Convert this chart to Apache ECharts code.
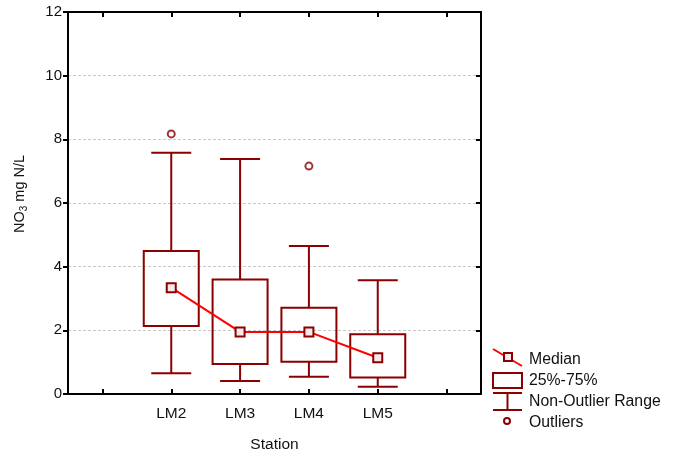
<!DOCTYPE html>
<html lang="en">
<head>
    <meta charset="UTF-8">
    <title>NO3 by station</title>
    <script src="https://cdn.jsdelivr.net/npm/echarts@6/dist/echarts.min.js"></script>
    <style>
        html, body { margin: 0; padding: 0; background: #fff; }
    </style>
</head>
<body>
    <div id="main" style="width: 680px;height:455px;"></div>
    <script type="text/javascript">
        // stations (empty slots at both ends for padding)
        const categories = ['', 'LM2', 'LM3', 'LM4', 'LM5', ''];
        const stations = ['LM2', 'LM3', 'LM4', 'LM5'];

        const medians = [3.34, 1.95, 1.95, 1.14];
        const q1 = [2.14, 0.94, 1.01, 0.52];
        const q3 = [4.49, 3.60, 2.71, 1.88];
        const whiskerLow = [0.65, 0.41, 0.54, 0.23];
        const whiskerHigh = [7.58, 7.38, 4.65, 3.57];

        const outlierStations = ['LM2', 'LM4'];
        const outlierValues = [8.17, 7.16];

        const yTicks = [0, 2, 4, 6, 8, 10, 12];

        const dark = '#8b0000';
        const font = 'Liberation Sans, Arial, sans-serif';

        var myChart = echarts.init(document.getElementById('main'));

        // box data: [category, low, q1, q3, high]
        const boxData = stations.map(function (s, i) {
            return [categories.indexOf(s), whiskerLow[i], q1[i], q3[i], whiskerHigh[i]];
        });
        const medianData = stations.map(function (s, i) {
            return [s, medians[i]];
        });
        const outlierData = outlierStations.map(function (s, i) {
            return [s, outlierValues[i]];
        });

        function renderBox(params, api) {
            const x = api.value(0);
            const low = api.coord([x, api.value(1)]);
            const lo = api.coord([x, api.value(2)]);
            const hi = api.coord([x, api.value(3)]);
            const high = api.coord([x, api.value(4)]);
            const cx = low[0];
            const bw = 27.5, cw = 20;
            const st = { stroke: dark, lineWidth: 2, fill: null };
            return {
                type: 'group',
                children: [
                    { type: 'line', shape: { x1: cx, y1: high[1], x2: cx, y2: hi[1] }, style: st },
                    { type: 'line', shape: { x1: cx, y1: lo[1], x2: cx, y2: low[1] }, style: st },
                    { type: 'line', shape: { x1: cx - cw, y1: high[1], x2: cx + cw, y2: high[1] }, style: st },
                    { type: 'line', shape: { x1: cx - cw, y1: low[1], x2: cx + cw, y2: low[1] }, style: st },
                    { type: 'rect', shape: { x: cx - bw, y: hi[1], width: bw * 2, height: lo[1] - hi[1] }, style: { stroke: dark, lineWidth: 2, fill: 'rgba(0,0,0,0)' } }
                ]
            };
        }

        const frameTick = { show: true, interval: 0, inside: true, length: 5, alignWithLabel: true, lineStyle: { color: '#000', width: 2 } };
        const lx = 493, ly = 349;
        var option = {
            animation: false,
            backgroundColor: '#fff',
            grid: { left: 68, right: 199, top: 12, bottom: 61, outerBoundsMode: 'none', containLabel: false },
            xAxis: [{
                type: 'category',
                data: categories,
                position: 'bottom',
                name: 'Station',
                nameLocation: 'middle',
                nameGap: 43,
                nameTextStyle: { color: '#111', fontSize: 15.5, fontFamily: font },
                axisLine: { show: true, onZero: false, lineStyle: { color: '#000', width: 2 } },
                axisTick: frameTick,
                axisLabel: { color: '#111', fontSize: 15.5, fontFamily: font, margin: 12, interval: 0 },
                splitLine: { show: false }
            }, {
                type: 'category',
                data: categories,
                position: 'top',
                axisLine: { show: true, onZero: false, lineStyle: { color: '#000', width: 2 } },
                axisTick: frameTick,
                axisLabel: { show: false, interval: 0 },
                splitLine: { show: false }
            }],
            yAxis: [{
                type: 'value',
                min: 0,
                max: 12,
                interval: 2,
                name: '{a|NO}{b|3}{a| mg N/L}',
                nameLocation: 'middle',
                nameGap: 39,
                nameTextStyle: {
                    padding: [0, 0, 0, 18],
                    rich: {
                        a: { fontSize: 14.5, fontFamily: font, color: '#111' },
                        b: { fontSize: 10, fontFamily: font, color: '#111', padding: [8, 0, 0, 0] }
                    }
                },
                axisLine: { show: true, onZero: false, lineStyle: { color: '#000', width: 2 } },
                axisTick: { show: true, length: 5, lineStyle: { color: '#000', width: 2 } },
                axisLabel: {
                    color: '#111', fontSize: 15, fontFamily: font, margin: 6,
                    formatter: function (v) { return yTicks.indexOf(v) >= 0 ? String(v) : ''; }
                },
                splitLine: { show: true, lineStyle: { color: '#c8c8c8', type: [3, 2], width: 1 } }
            }, {
                type: 'value',
                min: 0,
                max: 12,
                interval: 2,
                position: 'right',
                axisLine: { show: true, onZero: false, lineStyle: { color: '#000', width: 2 } },
                axisTick: { show: true, inside: true, length: 5, lineStyle: { color: '#000', width: 2 } },
                axisLabel: { show: false },
                splitLine: { show: false }
            }],
            series: [{
                type: 'custom',
                name: 'box',
                renderItem: renderBox,
                encode: { x: 0, y: [1, 2, 3, 4] },
                data: boxData,
                z: 2
            }, {
                type: 'line',
                name: 'Median',
                data: medianData,
                symbol: 'rect',
                symbolSize: 9,
                lineStyle: { color: '#ff0000', width: 2 },
                itemStyle: { color: '#fbe9e9', borderColor: dark, borderWidth: 2 },
                z: 3
            }, {
                type: 'scatter',
                name: 'Outliers',
                data: outlierData,
                symbol: 'circle',
                symbolSize: 7,
                itemStyle: { color: '#fff', borderColor: dark, borderWidth: 2 },
                z: 3
            }],
            graphic: [
                { type: 'line', shape: { x1: lx, y1: ly, x2: lx + 29, y2: ly + 17 }, style: { stroke: '#ff0000', lineWidth: 2 } },
                { type: 'rect', shape: { x: lx + 11, y: ly + 4, width: 8, height: 8 }, style: { fill: '#fbe9e9', stroke: dark, lineWidth: 2 } },
                { type: 'rect', shape: { x: lx, y: ly + 24, width: 29, height: 15 }, style: { fill: '#fff', stroke: dark, lineWidth: 2 } },
                { type: 'line', shape: { x1: lx, y1: ly + 44, x2: lx + 29, y2: ly + 44 }, style: { stroke: dark, lineWidth: 2 } },
                { type: 'line', shape: { x1: lx + 14.5, y1: ly + 44, x2: lx + 14.5, y2: ly + 61 }, style: { stroke: dark, lineWidth: 2 } },
                { type: 'line', shape: { x1: lx, y1: ly + 61, x2: lx + 29, y2: ly + 61 }, style: { stroke: dark, lineWidth: 2 } },
                { type: 'circle', shape: { cx: lx + 14, cy: ly + 72, r: 3 }, style: { fill: '#fff', stroke: dark, lineWidth: 2 } },
                { type: 'text', x: 529, y: 360, style: { text: 'Median', fontSize: 15.8, fontFamily: font, fill: '#111', verticalAlign: 'middle' } },
                { type: 'text', x: 529, y: 381, style: { text: '25%-75%', fontSize: 15.8, fontFamily: font, fill: '#111', verticalAlign: 'middle' } },
                { type: 'text', x: 529, y: 402, style: { text: 'Non-Outlier Range', fontSize: 15.8, fontFamily: font, fill: '#111', verticalAlign: 'middle' } },
                { type: 'text', x: 529, y: 423, style: { text: 'Outliers', fontSize: 15.8, fontFamily: font, fill: '#111', verticalAlign: 'middle' } }
            ]
        };

        myChart.setOption(option);
    </script>
</body>
</html>
